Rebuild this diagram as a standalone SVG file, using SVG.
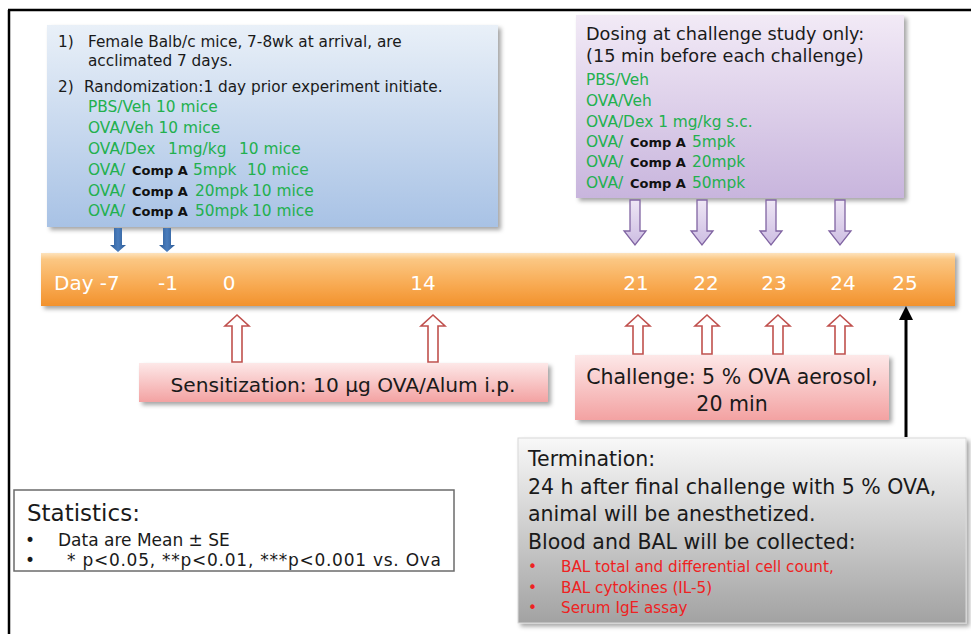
<svg xmlns="http://www.w3.org/2000/svg" width="971" height="634" viewBox="0 0 971 634">
<defs>
<linearGradient id="gBlue" x1="0" y1="0" x2="0" y2="1"><stop offset="0" stop-color="#e9f0f8"/><stop offset="1" stop-color="#a8c2e5"/></linearGradient>
<linearGradient id="gPurple" x1="0" y1="0" x2="0" y2="1"><stop offset="0" stop-color="#f2eaf6"/><stop offset="1" stop-color="#c8b5dd"/></linearGradient>
<linearGradient id="gOrange" x1="0" y1="0" x2="0" y2="1"><stop offset="0" stop-color="#fde3bd"/><stop offset="0.12" stop-color="#fbc783"/><stop offset="0.6" stop-color="#f8aa52"/><stop offset="1" stop-color="#f2922e"/></linearGradient>
<linearGradient id="gPink" x1="0" y1="0" x2="0" y2="1"><stop offset="0" stop-color="#fde8e8"/><stop offset="1" stop-color="#f3a2a2"/></linearGradient>
<linearGradient id="gGray" x1="0" y1="0" x2="0" y2="1"><stop offset="0" stop-color="#f8f8f8"/><stop offset="1" stop-color="#a2a2a2"/></linearGradient>
<linearGradient id="gBlueArrow" x1="0" y1="0" x2="1" y2="0"><stop offset="0" stop-color="#2c5a94"/><stop offset="0.5" stop-color="#4a7dbd"/><stop offset="1" stop-color="#2c5a94"/></linearGradient>
<linearGradient id="gPurpleArrow" x1="0" y1="0" x2="0" y2="1"><stop offset="0" stop-color="#eee6f5"/><stop offset="1" stop-color="#cdbde2"/></linearGradient>
<filter id="sh" x="-5%" y="-5%" width="112%" height="125%"><feDropShadow dx="3" dy="3" stdDeviation="2" flood-color="#000" flood-opacity="0.35"/></filter>
</defs>
<style>
text{font-family:"DejaVu Sans","Liberation Sans",sans-serif;}
.k{fill:#1a1a1a}
.g{fill:#22b04e}
.b{font-weight:bold;font-size:13px;fill:#111}
.r{fill:#ee2222}
.w{fill:#ffffff}
.ra{fill:#ffffff;stroke:#c0504d;stroke-width:1.6;stroke-linejoin:miter}
.pa{fill:url(#gPurpleArrow);stroke:#8064a2;stroke-width:1.3}
.ba{fill:url(#gBlueArrow)}
</style>
<rect x="0" y="0" width="971" height="634" fill="#ffffff"/>
<path d="M8,10 H971 M9,10 V634" stroke="#000" stroke-width="2.5" fill="none"/>

<g id="acclimation-box">
<rect x="47" y="25" width="451" height="202" fill="url(#gBlue)" filter="url(#sh)"/>
<text class="k" font-size="15.3"><tspan x="58" y="47">1)</tspan><tspan x="88">Female Balb/c mice, 7-8wk at arrival, are</tspan></text>
<text class="k" font-size="15.3" x="88" y="66">acclimated 7 days.</text>
<text class="k" font-size="15.3"><tspan x="58" y="92">2)</tspan><tspan x="84">Randomization:1 day prior experiment initiate.</tspan></text>
<text class="g" font-size="15.4" x="88" y="112">PBS/Veh 10 mice</text>
<text class="g" font-size="15.4" x="88" y="133">OVA/Veh 10 mice</text>
<text class="g" font-size="15.4"><tspan x="88" y="154">OVA/Dex</tspan><tspan x="168">1mg/kg</tspan><tspan x="239">10 mice</tspan></text>
<text class="g" font-size="15.4"><tspan x="88" y="175">OVA/</tspan><tspan class="b" x="132">Comp A</tspan><tspan x="193">5mpk</tspan><tspan x="247">10 mice</tspan></text>
<text class="g" font-size="15.4"><tspan x="88" y="196">OVA/</tspan><tspan class="b" x="132">Comp A</tspan><tspan x="195">20mpk</tspan><tspan x="252">10 mice</tspan></text>
<text class="g" font-size="15.4"><tspan x="88" y="216">OVA/</tspan><tspan class="b" x="132">Comp A</tspan><tspan x="195">50mpk</tspan><tspan x="252">10 mice</tspan></text>
</g>

<g id="dosing-box">
<rect x="576" y="15" width="328" height="183" fill="url(#gPurple)" filter="url(#sh)"/>
<text class="k" font-size="17.7" x="586" y="40">Dosing at challenge study only:</text>
<text class="k" font-size="17.7" x="586" y="62">(15 min before each challenge)</text>
<text class="g" font-size="15.4" x="586" y="85">PBS/Veh</text>
<text class="g" font-size="15.4" x="586" y="106">OVA/Veh</text>
<text class="g" font-size="15.4" x="586" y="127">OVA/Dex 1 mg/kg s.c.</text>
<text class="g" font-size="15.4"><tspan x="586" y="147">OVA/</tspan><tspan class="b" x="630">Comp A</tspan><tspan x="692">5mpk</tspan></text>
<text class="g" font-size="15.4"><tspan x="586" y="167">OVA/</tspan><tspan class="b" x="630">Comp A</tspan><tspan x="692">20mpk</tspan></text>
<text class="g" font-size="15.4"><tspan x="586" y="188">OVA/</tspan><tspan class="b" x="630">Comp A</tspan><tspan x="692">50mpk</tspan></text>
</g>

<g id="timeline">
<rect x="41" y="253" width="914" height="53" fill="url(#gOrange)" filter="url(#sh)"/>
<text class="w" font-size="20" x="54" y="290">Day -7</text>
<text class="w" font-size="20" text-anchor="middle" x="168" y="290">-1</text>
<text class="w" font-size="20" text-anchor="middle" x="229" y="290">0</text>
<text class="w" font-size="20" text-anchor="middle" x="423" y="290">14</text>
<text class="w" font-size="20" text-anchor="middle" x="636" y="290">21</text>
<text class="w" font-size="20" text-anchor="middle" x="706" y="290">22</text>
<text class="w" font-size="20" text-anchor="middle" x="774" y="290">23</text>
<text class="w" font-size="20" text-anchor="middle" x="843" y="290">24</text>
<text class="w" font-size="20" text-anchor="middle" x="905" y="290">25</text>
</g>

<g id="sensitization-box">
<rect x="139" y="363" width="409" height="39" fill="url(#gPink)" filter="url(#sh)"/>
<text class="k" font-size="20.2" text-anchor="middle" x="343" y="392">Sensitization: 10 μg OVA/Alum i.p.</text>
</g>

<g id="challenge-box">
<rect x="575" y="355" width="314" height="65" fill="url(#gPink)" filter="url(#sh)"/>
<text class="k" font-size="20.5" text-anchor="middle" x="732" y="384">Challenge: 5 % OVA aerosol,</text>
<text class="k" font-size="20.5" text-anchor="middle" x="732" y="411">20 min</text>
</g>

<g id="termination-box">
<rect x="518" y="438" width="448" height="185" fill="url(#gGray)" stroke="#d8d8d8" stroke-width="1" filter="url(#sh)"/>
<text class="k" font-size="20.5" x="528" y="466">Termination:</text>
<text class="k" font-size="20.5" x="528" y="494">24 h after final challenge with 5 % OVA,</text>
<text class="k" font-size="20.5" x="528" y="521">animal will be anesthetized.</text>
<text class="k" font-size="20.5" x="528" y="549">Blood and BAL will be collected:</text>
<text class="r" font-size="15.2"><tspan x="528" y="572">•</tspan><tspan x="561">BAL total and differential cell count,</tspan></text>
<text class="r" font-size="15.2"><tspan x="528" y="593">•</tspan><tspan x="561">BAL cytokines (IL-5)</tspan></text>
<text class="r" font-size="15.2"><tspan x="528" y="613">•</tspan><tspan x="561">Serum IgE assay</tspan></text>
</g>

<g id="statistics-box">
<rect x="14" y="490" width="440" height="81" fill="#ffffff" stroke="#6b6b6b" stroke-width="1.5"/>
<text class="k" font-size="23" x="27" y="521">Statistics:</text>
<text class="k" font-size="17"><tspan x="25" y="546">•</tspan><tspan x="58">Data are Mean ± SE</tspan></text>
<text class="k" font-size="17"><tspan x="25" y="566">•</tspan><tspan x="67" textLength="374" lengthAdjust="spacing">* p&lt;0.05, **p&lt;0.01, ***p&lt;0.001 vs. Ova</tspan></text>
</g>

<g id="connectors">
<polygon class="ba" points="114,228 122,228 122,245 126,245 118,252 110,245 114,245"/>
<polygon class="ba" points="163,228 171,228 171,245 175,245 167,252 159,245 163,245"/>
<polygon class="pa" points="630,200 640,200 640,231 646,231 635,245 624,231 630,231"/>
<polygon class="pa" points="697,200 707,200 707,231 713,231 702,245 691,231 697,231"/>
<polygon class="pa" points="766,200 776,200 776,231 782,231 771,245 760,231 766,231"/>
<polygon class="pa" points="835,200 845,200 845,231 851,231 840,245 829,231 835,231"/>
<polygon class="ra" points="232,362 232,326 225,326 237,315 249,326 242,326 242,362"/>
<polygon class="ra" points="428,362 428,326 421,326 433,315 445,326 438,326 438,362"/>
<polygon class="ra" points="633,354 633,326 626,326 638,315 650,326 643,326 643,354"/>
<polygon class="ra" points="702,354 702,326 695,326 707,315 719,326 712,326 712,354"/>
<polygon class="ra" points="773,354 773,326 766,326 778,315 790,326 783,326 783,354"/>
<polygon class="ra" points="835,354 835,326 828,326 840,315 852,326 845,326 845,354"/>
<line x1="906" y1="437" x2="906" y2="316" stroke="#000" stroke-width="3"/>
<polygon points="906,306 913,320 899,320" fill="#000"/>
</g>
</svg>
